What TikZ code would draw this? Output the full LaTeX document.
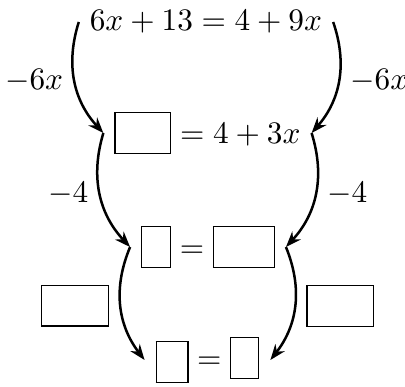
\documentclass[tikz,border=0pt]{standalone}
\usepackage{amsmath,amssymb}
\usepackage{tikz}
\usetikzlibrary{arrows.meta}
\newcommand{\gapbox}[2][0pt]{\fbox{\rule[#1]{0pt}{6.6pt}\hspace{#2}}}

\begin{document}
\begin{tikzpicture}[>={Stealth[length=5pt]},
  arr/.style={->, thick}]
  \useasboundingbox (0,0) rectangle (4.548,-4.346);
  \node (eq1) at (2.313,-0.247) {$6x+13=4+9x$};
  \node (eq2) at (2.330,-1.494) {$\gapbox{11.4pt}=4+3x$};
  \node (eq3) at (2.336,-2.774) {$\gapbox{2.8pt}=\gapbox{13pt}$};
  \node (eq4) at (2.330,-4.043) {$\gapbox[-1.2pt]{3.7pt}=\gapbox{2.5pt}$};
  \draw[arr] (eq1.west) to[bend right=30] node[left] {$-6x$} (eq2.west);
  \draw[arr] (eq1.east) to[bend left=30] node[right] {$-6x$} (eq2.east);
  \draw[arr] (eq2.west) to[bend right=30] node[left] {$-4$} (eq3.west);
  \draw[arr] (eq2.east) to[bend left=30] node[right] {$-4$} (eq3.east);
  \draw[arr] (eq3.west) to[bend right=30] node[left] {\gapbox{14.9pt}} (eq4.west);
  \draw[arr] (eq3.east) to[bend left=30] node[right] {\gapbox{14.9pt}} (eq4.east);
\end{tikzpicture}
\end{document}
